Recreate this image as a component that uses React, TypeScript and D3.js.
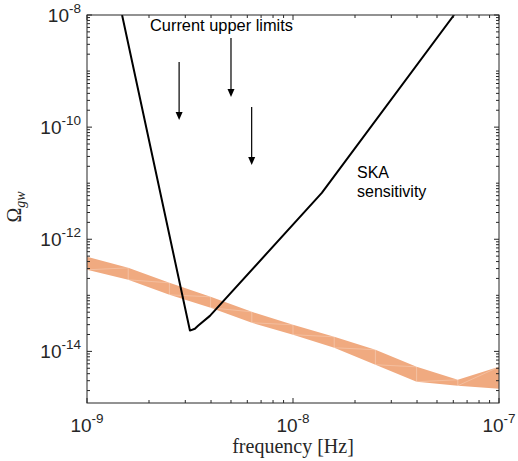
import React from "react";
import * as d3 from "d3";

// predicted background band (frequency in Hz, upper and lower Omega_gw)
const bandFreq = [1e-9, 1.585e-9, 2.512e-9, 3.981e-9, 6.31e-9, 1e-8, 1.585e-8, 2.512e-8, 3.981e-8, 6.31e-8, 1e-7];
const bandUpper = [4.85e-13, 3.09e-13, 1.67e-13, 9.4e-14, 5.08e-14, 2.98e-14, 1.82e-14, 1.07e-14, 5.3e-15, 3.12e-15, 5.3e-15];
const bandLower = [2.85e-13, 1.89e-13, 1.02e-13, 5.98e-14, 3.24e-14, 1.98e-14, 1.16e-14, 5.77e-15, 2.87e-15, 2.44e-15, 2.15e-15];

// SKA sensitivity curve
const skaFreq = [1.48e-9, 3.16e-9, 3.34e-9, 3.46e-9, 3.95e-9, 1.38e-8, 6.05e-8];
const skaOmega = [1e-8, 2.35e-14, 2.53e-14, 2.86e-14, 4.3e-14, 6.7e-12, 1e-8];

// current upper limit arrows
const arrowFreq = [2.8e-9, 5.0e-9, 6.3e-9];
const arrowFrom = [1.45e-9, 3.9e-9, 2.29e-10];
const arrowTo = [1.34e-10, 3.45e-10, 2.1e-11];

const xMajor = [1e-9, 1e-8, 1e-7];
const xLabels = ["-9", "-8", "-7"];
const yMajor = [1e-8, 1e-10, 1e-12, 1e-14];
const yLabels = ["-8", "-10", "-12", "-14"];

const W = 518;
const H = 461;
const margin = { top: 15, right: 19, bottom: 58, left: 87 };
const axisColor = "#262626";
const sans = "'Liberation Sans', Arial, sans-serif";
const serif = "'Liberation Serif', 'DejaVu Serif', serif";

export default function App() {
  const x = d3.scaleLog().domain([1e-9, 1e-7]).range([margin.left, W - margin.right]);
  const y = d3.scaleLog().domain([1.2e-15, 1e-8]).range([H - margin.bottom, margin.top]);
  const x0 = margin.left, x1 = W - margin.right, y0 = margin.top, y1 = H - margin.bottom;

  const band = bandFreq.map((f, i) => ({ f, hi: bandUpper[i], lo: bandLower[i] }));
  const area = d3
    .area<{ f: number; hi: number; lo: number }>()
    .x((d) => x(d.f))
    .y0((d) => y(d.lo))
    .y1((d) => y(d.hi));

  const line = d3
    .line<number>()
    .x((_, i) => x(skaFreq[i]))
    .y((d) => y(d));

  const xMinor = x.ticks().filter((t) => !xMajor.some((m) => Math.abs(m - t) / m < 1e-6));
  const yMinor = y.ticks().filter((t) => !yMajor.some((m) => Math.abs(m - t) / m < 1e-6) && t >= 1.2e-15);

  const majLen = 5;
  const minLen = 3;

  return (
    <svg width={W} height={H} style={{ position: "absolute", left: 0, top: 0, background: "#fff" }}>
      <defs>
        <clipPath id="plot">
          <rect x={x0} y={y0} width={x1 - x0} height={y1 - y0} />
        </clipPath>
      </defs>

      <g clipPath="url(#plot)">
        <path d={area(band) || ""} fill="#f0aa80" />
        {band.map((d, i) => (
          <line key={"v" + i} x1={x(d.f)} x2={x(d.f)} y1={y(d.lo)} y2={y(d.hi)} stroke="#fff" strokeOpacity={0.35} strokeWidth={0.8} />
        ))}
        {band.slice(0, -1).map((d, i) => (
          <line key={"d" + i} x1={x(d.f)} y1={y(d.lo)} x2={x(band[i + 1].f)} y2={y(band[i + 1].hi)} stroke="#fff" strokeOpacity={0.3} strokeWidth={0.8} />
        ))}
        <path d={line(skaOmega) || ""} fill="none" stroke="#000" strokeWidth={2} strokeLinejoin="round" />
      </g>

      {arrowFreq.map((f, i) => {
        const ax = x(f);
        const ya = y(arrowFrom[i]);
        const yb = y(arrowTo[i]);
        return (
          <g key={"a" + i}>
            <line x1={ax} x2={ax} y1={ya} y2={yb - 7} stroke="#000" strokeWidth={1.2} />
            <path d={`M${ax - 3.5},${yb - 8} L${ax + 3.5},${yb - 8} L${ax},${yb} Z`} fill="#000" />
          </g>
        );
      })}

      <text x={150} y={31} fontFamily={sans} fontSize={16.4} fill="#000">Current upper limits</text>
      <text fontFamily={sans} fontSize={16} fill="#000">
        <tspan x={357} y={178}>SKA</tspan>
        <tspan x={357} y={197}>sensitivity</tspan>
      </text>

      {/* frame */}
      <rect x={x0} y={y0} width={x1 - x0} height={y1 - y0} fill="none" stroke={axisColor} strokeWidth={1} />

      {/* x ticks */}
      {xMajor.map((t) => (
        <g key={"xm" + t} stroke={axisColor}>
          <line x1={x(t)} x2={x(t)} y1={y1} y2={y1 - majLen} />
          <line x1={x(t)} x2={x(t)} y1={y0} y2={y0 + majLen} />
        </g>
      ))}
      {xMinor.map((t) => (
        <g key={"xn" + t} stroke={axisColor}>
          <line x1={x(t)} x2={x(t)} y1={y1} y2={y1 - minLen} />
          <line x1={x(t)} x2={x(t)} y1={y0} y2={y0 + minLen} />
        </g>
      ))}
      {/* y ticks */}
      {yMajor.map((t) => (
        <g key={"ym" + t} stroke={axisColor}>
          <line x1={x0} x2={x0 + majLen} y1={y(t)} y2={y(t)} />
          <line x1={x1} x2={x1 - majLen} y1={y(t)} y2={y(t)} />
        </g>
      ))}
      {yMinor.map((t) => (
        <g key={"yn" + t} stroke={axisColor}>
          <line x1={x0} x2={x0 + minLen} y1={y(t)} y2={y(t)} />
          <line x1={x1} x2={x1 - minLen} y1={y(t)} y2={y(t)} />
        </g>
      ))}

      {/* tick labels */}
      {xMajor.map((t, i) => (
        <text key={"xl" + t} x={x(t)} y={y1 + 29} textAnchor="middle" fontFamily={sans} fontSize={19} fill={axisColor}>
          10<tspan dy={-9} fontSize={13.5}>{xLabels[i]}</tspan>
        </text>
      ))}
      {yMajor.map((t, i) => (
        <text key={"yl" + t} x={81} y={y(t) + 7} textAnchor="end" fontFamily={sans} fontSize={19} fill={axisColor}>
          10<tspan dy={-9} fontSize={13.5}>{yLabels[i]}</tspan>
        </text>
      ))}

      {/* axis titles */}
      <text x={(x0 + x1) / 2} y={453} textAnchor="middle" fontFamily={serif} fontSize={20} fill={axisColor}>
        frequency [Hz]
      </text>
      <text transform={`translate(21,${(y0 + y1) / 2 - 2}) rotate(-90)`} textAnchor="middle" fontFamily={serif} fontSize={20} fill={axisColor}>
        Ω<tspan dy={4} fontSize={14} fontStyle="italic">gw</tspan>
      </text>
    </svg>
  );
}
